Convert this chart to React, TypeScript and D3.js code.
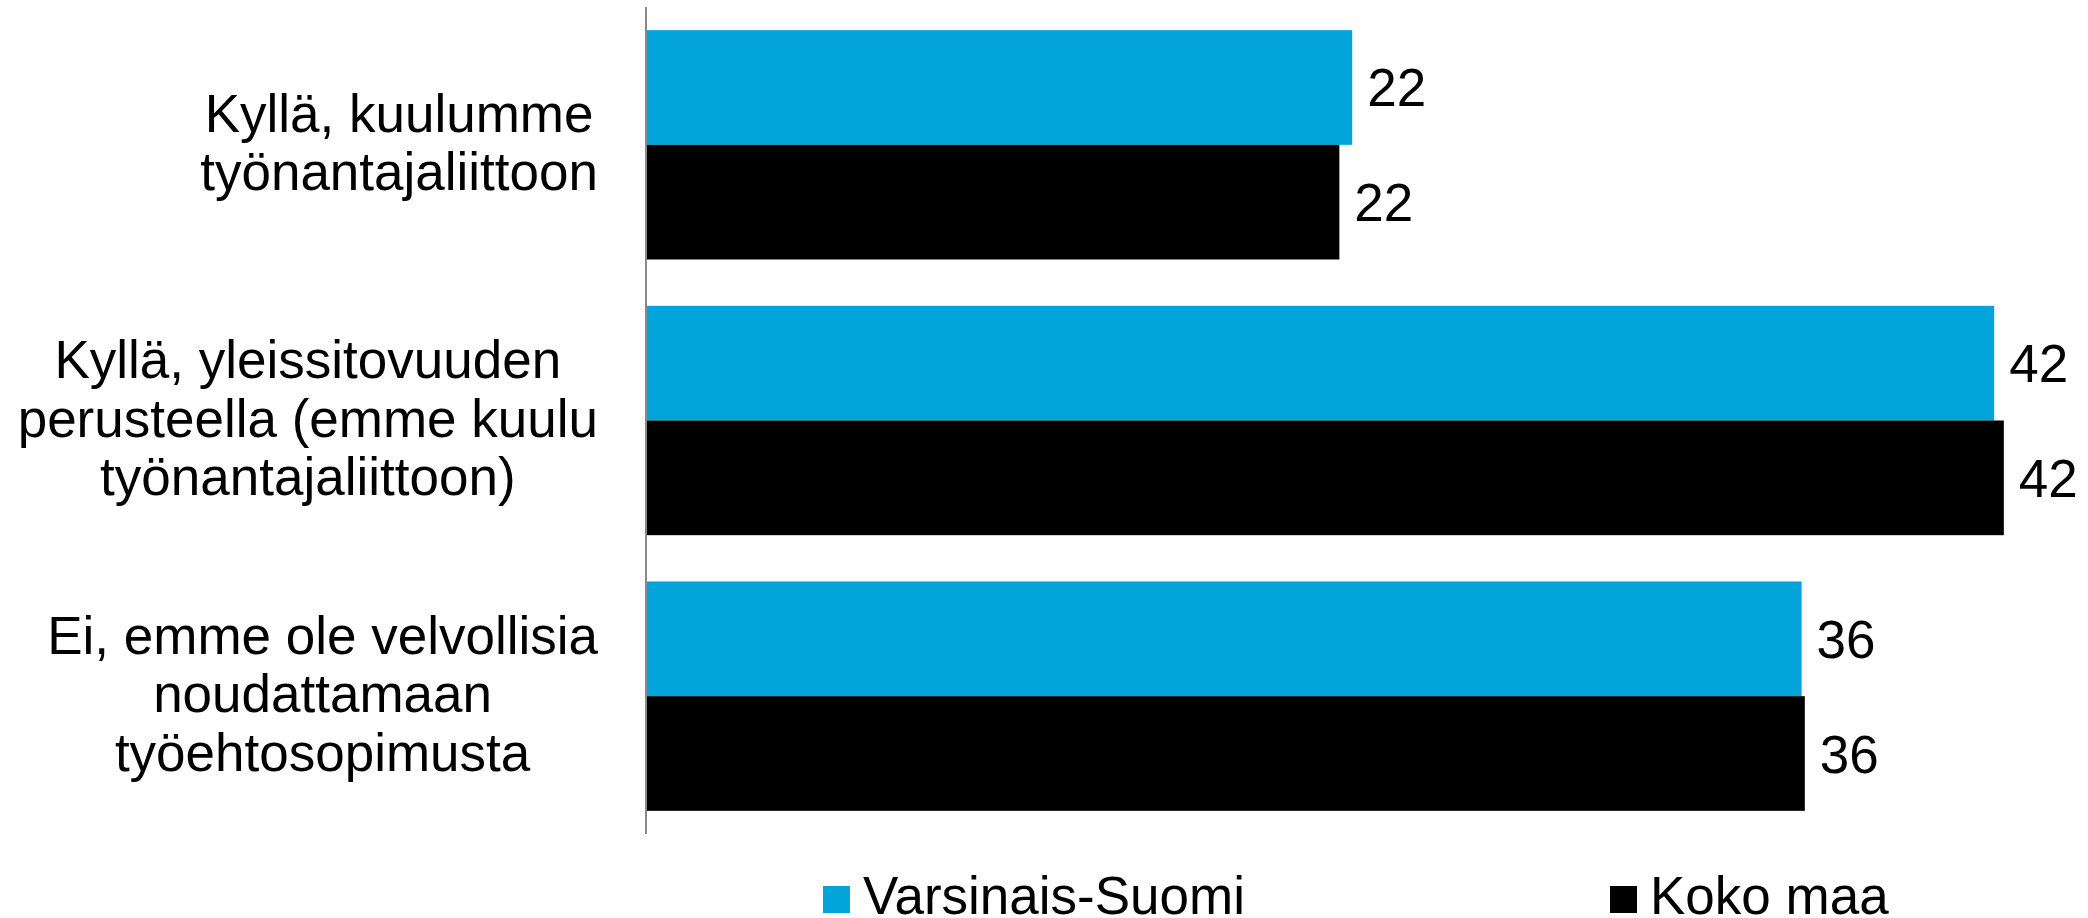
import React, { useEffect, useRef } from "react";
import * as d3 from "d3";

const categories: string[][] = [
  ["Kyllä, kuulumme", "työnantajaliittoon"],
  ["Kyllä, yleissitovuuden", "perusteella (emme kuulu", "työnantajaliittoon)"],
  ["Ei, emme ole velvollisia", "noudattamaan", "työehtosopimusta"],
];
const seriesNames = ["Varsinais-Suomi", "Koko maa"];
const seriesColors = ["#03A4DA", "#000000"];
const varsinaisSuomi = [22.0, 42.0, 36.0];
const kokoMaa = [21.6, 42.3, 36.1];
const xDomainMax = 45;

const W = 2088;
const H = 918;
const FONT = "'Liberation Sans', Arial, sans-serif";
const FS = 53;

export default function App() {
  const ref = useRef<SVGSVGElement | null>(null);

  useEffect(() => {
    const svg = d3.select(ref.current);
    svg.selectAll("*").remove();

    const keys = categories.map((_, i) => String(i));
    const values = [varsinaisSuomi, kokoMaa];

    const x = d3.scaleLinear().domain([0, xDomainMax]).range([646, 646 + xDomainMax * 32.1]);
    const y = d3
      .scaleBand<string>()
      .domain(keys)
      .range([7, 834])
      .paddingInner(0.168)
      .paddingOuter(0.084);
    const ySub = d3
      .scaleBand<string>()
      .domain(seriesNames)
      .range([0, y.bandwidth()])
      .padding(0);

    const g = svg.append("g");

    // bars
    seriesNames.forEach((s, si) => {
      g.selectAll(`rect.s${si}`)
        .data(values[si])
        .enter()
        .append("rect")
        .attr("class", `s${si}`)
        .attr("x", x(0))
        .attr("y", (_, i) => (y(keys[i]) as number) + (ySub(s) as number))
        .attr("width", (d) => x(d) - x(0))
        .attr("height", ySub.bandwidth())
        .attr("fill", seriesColors[si]);

      g.selectAll(`text.v${si}`)
        .data(values[si])
        .enter()
        .append("text")
        .attr("class", `v${si}`)
        .attr("x", (d) => x(d) + 15)
        .attr("y", (_, i) => (y(keys[i]) as number) + (ySub(s) as number) + ySub.bandwidth() / 2 + 19)
        .attr("font-family", FONT)
        .attr("font-size", FS)
        .attr("fill", "#000")
        .text((d) => d3.format(".0f")(d));
    });

    // axis line
    g.append("line")
      .attr("x1", x(0))
      .attr("x2", x(0))
      .attr("y1", 7)
      .attr("y2", 834)
      .attr("stroke", "#898989")
      .attr("stroke-width", 2);

    // category labels: each block centered, block right-aligned
    const lineH = 58.6;
    const right = 598;
    categories.forEach((lines, ci) => {
      const cy = (y(keys[ci]) as number) + y.bandwidth() / 2;
      const texts = lines.map((ln, li) =>
        g
          .append("text")
          .attr("font-family", FONT)
          .attr("font-size", FS)
          .attr("fill", "#000")
          .attr("text-anchor", "middle")
          .attr("y", cy + (li - (lines.length - 1) / 2) * lineH + 16)
          .text(ln)
      );
      const widths = texts.map((t) => (t.node() as SVGTextElement).getComputedTextLength());
      const maxW = d3.max(widths) || 0;
      texts.forEach((t) => t.attr("x", right - maxW / 2));
    });

    // legend
    const legendX = [823, 1610];
    seriesNames.forEach((s, si) => {
      g.append("rect")
        .attr("x", legendX[si])
        .attr("y", 886)
        .attr("width", 27)
        .attr("height", 27)
        .attr("fill", seriesColors[si]);
      g.append("text")
        .attr("x", legendX[si] + 40)
        .attr("y", 914)
        .attr("font-family", FONT)
        .attr("font-size", FS)
        .attr("fill", "#000")
        .text(s);
    });
  }, []);

  return (
    <div style={{ position: "absolute", left: 0, top: 0, width: W, height: H, background: "#fff" }}>
      <svg ref={ref} width={W} height={H} style={{ display: "block" }} />
    </div>
  );
}
